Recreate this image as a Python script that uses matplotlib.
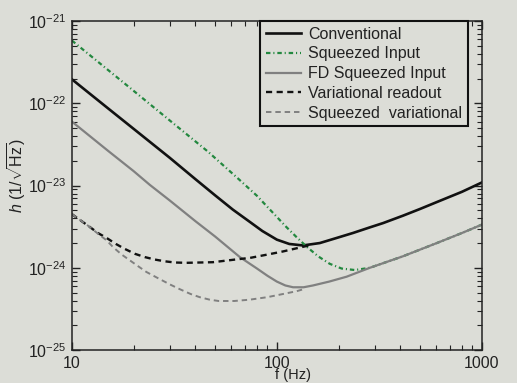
import numpy as np
import matplotlib
matplotlib.use("Agg")
import matplotlib.pyplot as plt

plt.rcParams['font.family'] = ['Liberation Sans', 'DejaVu Sans']
plt.rcParams['mathtext.fontset'] = 'custom'
plt.rcParams['mathtext.rm'] = 'Liberation Sans'
plt.rcParams['mathtext.it'] = 'Liberation Sans:italic'
plt.rcParams['mathtext.bf'] = 'Liberation Sans:bold'

# values (f in Hz, h in 1/sqrt(Hz))
f_conv = [10, 15, 20, 30, 40, 50, 61, 74, 85, 100, 115, 134, 162, 195, 235, 284, 330, 412, 500, 603, 800, 1000]
h_conv = [1.96e-22, 8.7e-23, 4.9e-23, 2.18e-23, 1.2e-23, 7.6e-24, 5.1e-24, 3.6e-24, 2.8e-24, 2.2e-24, 1.95e-24,
          1.87e-24, 2.0e-24, 2.3e-24, 2.65e-24, 3.1e-24, 3.5e-24, 4.3e-24, 5.2e-24, 6.3e-24, 8.4e-24, 1.09e-23]

f_sqz = [10, 20, 30, 46, 64.6, 80, 99.6, 111, 125, 140, 159, 181, 207, 240, 284, 412, 603, 800, 1000]
h_sqz = [5.8e-22, 1.42e-22, 6.2e-23, 2.6e-23, 1.22e-23, 7.5e-24, 4.2e-24, 3.15e-24, 2.35e-24, 1.8e-24,
         1.38e-24, 1.12e-24, 9.8e-25, 9.4e-25, 1.0e-24, 1.38e-24, 2.0e-24, 2.65e-24, 3.35e-24]

f_fd = [10, 15, 20, 24, 30, 40, 50, 66, 80, 90, 100, 110, 120, 135, 150, 180, 219, 284, 412, 603, 800, 1000]
h_fd = [6.0e-23, 2.65e-23, 1.5e-23, 1.02e-23, 6.6e-24, 3.7e-24, 2.4e-24, 1.35e-24, 9.8e-25, 8.0e-25, 6.8e-25,
        6.1e-25, 5.8e-25, 5.8e-25, 6.1e-25, 6.8e-25, 7.8e-25, 1.0e-24, 1.38e-24, 2.0e-24, 2.65e-24, 3.35e-24]

f_var = [10, 10.9, 12.1, 13.4, 14.8, 16.4, 18.1, 20.3, 22.7, 25.4, 28.4, 31.8, 36.2, 48.7, 66, 74, 90, 107, 134, 145]
h_var = [4.5e-24, 3.85e-24, 3.2e-24, 2.65e-24, 2.3e-24, 1.95e-24, 1.7e-24, 1.48e-24, 1.35e-24, 1.26e-24,
         1.2e-24, 1.16e-24, 1.15e-24, 1.17e-24, 1.28e-24, 1.32e-24, 1.45e-24, 1.58e-24, 1.8e-24, 1.88e-24]

f_sqv = [10, 10.9, 12.1, 13.4, 14.8, 15.9, 17.5, 19.2, 21, 23.1, 26, 30, 33.6, 38, 42, 47, 52, 62, 73.8, 90, 107, 125, 135]
h_sqv = [4.5e-24, 3.85e-24, 3.2e-24, 2.6e-24, 2.15e-24, 1.78e-24, 1.45e-24, 1.23e-24, 1.05e-24, 8.9e-25,
         7.6e-25, 6.3e-25, 5.5e-25, 4.8e-25, 4.4e-25, 4.1e-25, 3.95e-25, 3.95e-25, 4.1e-25, 4.4e-25, 4.8e-25,
         5.2e-25, 5.5e-25]

labels = ['Conventional', 'Squeezed Input', 'FD Squeezed Input', 'Variational readout', 'Squeezed  variational']

paper = '#dcddd7'
fig = plt.figure(figsize=(5.17, 3.83), dpi=100, facecolor=paper)
ax = fig.add_axes([0.139, 0.086, 0.793, 0.859], facecolor=paper)

ax.plot(f_conv, h_conv, color='#111111', lw=1.9, label=labels[0])
ax.plot(f_sqz, h_sqz, color='#23883f', lw=1.6, dashes=(2.0, 1.3, 0.5, 1.3), label=labels[1])
ax.plot(f_fd, h_fd, color='#808080', lw=1.6, label=labels[2])
ax.plot(f_var, h_var, color='#111111', lw=1.7, dashes=(2.6, 1.9), label=labels[3])
ax.plot(f_sqv, h_sqv, color='#808080', lw=1.4, dashes=(2.8, 2.0), label=labels[4])

ax.set_xscale('log')
ax.set_yscale('log')
ax.set_xlim(10, 1000)
ax.set_ylim(1e-25, 1e-21)
ax.set_xticks([10, 100, 1000])
ax.set_xticklabels(['10', '100', '1000'])
ax.set_yticks([1e-25, 1e-24, 1e-23, 1e-22, 1e-21])
ax.set_yticklabels([r'$10^{-25}$', r'$10^{-24}$', r'$10^{-23}$', r'$10^{-22}$', r'$10^{-21}$'])

ax.tick_params(which='both', direction='in', top=True, right=True, colors='#222222',
               labelcolor='#222222', labelsize=11.5)
ax.tick_params(which='major', length=6, width=1.0, pad=4)
ax.tick_params(which='minor', length=3.5, width=0.8)
for s in ax.spines.values():
    s.set_linewidth(1.1)
    s.set_color('#222222')

ax.set_xlabel('f (Hz)', fontsize=10.5, color='#222222')
ax.xaxis.set_label_coords(0.54, -0.056)
ax.set_ylabel(r'$h$ (1/$\sqrt{\mathrm{Hz}}$)', fontsize=11.5, color='#222222')
ax.yaxis.set_label_coords(-0.107, 0.53)

leg = ax.legend(loc='upper right', bbox_to_anchor=(0.966, 1.0), borderaxespad=0, fontsize=11.5,
                fancybox=False, frameon=True, handlelength=2.2, handletextpad=0.45,
                labelspacing=0.3, borderpad=0.35, facecolor=paper, framealpha=1)
leg.get_frame().set_edgecolor('#111111')
leg.get_frame().set_linewidth(1.5)
for t in leg.get_texts():
    t.set_color('#222222')

fig.savefig('out.png', dpi=100, facecolor=paper)
